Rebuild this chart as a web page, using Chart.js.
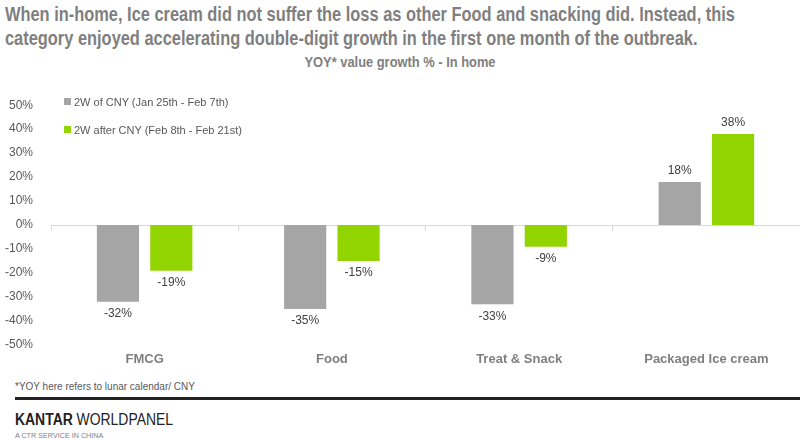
<!DOCTYPE html>
<html>
<head>
<meta charset="utf-8">
<script src="https://cdn.jsdelivr.net/npm/chart.js@4"></script>
<style>
  body { margin: 0; width: 800px; height: 441px; background: #fff; overflow: hidden; position: relative; font-family: "Liberation Sans", Arial, sans-serif; }
  .title { position: absolute; left: 5px; top: 2px; width: 1000px; transform: scaleX(0.8); transform-origin: 0 0; font-weight: bold; font-size: 20.5px; line-height: 24px; color: #7f7f7f; }
  .subtitle { position: absolute; left: 0; top: 54px; width: 800px; text-align: center; font-weight: bold; font-size: 14px; color: #7f7f7f; transform: scaleX(0.92); }
  #wrap { position: absolute; left: 0; top: 88px; width: 800px; height: 282px; }
  .legend { position: absolute; left: 64px; top: 95px; font-size: 11px; color: #595959; }
  .legend div { height: 28px; line-height: 14px; }
  .legend span { display: inline-block; width: 7px; height: 7px; margin-right: 3px; vertical-align: 1px; }
  .note { position: absolute; left: 15px; top: 381px; font-size: 10px; color: #595959; }
  .rule { position: absolute; left: 15px; top: 397px; width: 785px; height: 3px; background: #222; }
  .brand { position: absolute; left: 15px; top: 411px; font-size: 16px; color: #222; transform: scaleX(0.87); transform-origin: 0 0; white-space: nowrap; }
  .brand b { font-weight: bold; }
  .sub { position: absolute; left: 15px; top: 431px; font-size: 8px; color: #7f7f7f; transform: scaleX(0.9); transform-origin: 0 0; white-space: nowrap; }
</style>
</head>
<body>
<div class="title">When in-home, Ice cream did not suffer the loss as other Food and snacking did. Instead, this<br>category enjoyed accelerating double-digit growth in the first one month of the outbreak.</div>
<div class="subtitle">YOY* value growth % - In home</div>
<div id="wrap"><canvas id="chart"></canvas></div>
<div class="legend" id="legend"></div>
<div class="note">*YOY here refers to lunar calendar/ CNY</div>
<div class="rule"></div>
<div class="brand"><b>KANTAR</b> WORLDPANEL</div>
<div class="sub">A CTR SERVICE IN CHINA</div>
<script>
// Data
const categories = ['FMCG', 'Food', 'Treat & Snack', 'Packaged Ice cream'];
const seriesNames = ['2W of CNY (Jan 25th - Feb 7th)', '2W after CNY (Feb 8th - Feb 21st)'];
const before = [-32, -35, -33, 18];
const after = [-19, -15, -9, 38];
const yTicks = [50, 40, 30, 20, 10, 0, -10, -20, -30, -40, -50];
const colors = ['#a5a5a5', '#92d400'];

// Legend
const legend = document.getElementById('legend');
seriesNames.forEach((name, i) => {
    const row = document.createElement('div');
    row.innerHTML = '<span style="background:' + colors[i] + '"></span>' + name;
    legend.appendChild(row);
});

// Value labels above / below bars
const valueLabels = {
    id: 'valueLabels',
    afterDatasetsDraw(chart) {
        const ctx = chart.ctx;
        ctx.save();
        ctx.font = '12px "Liberation Sans", Arial, sans-serif';
        ctx.fillStyle = '#404040';
        ctx.textAlign = 'center';
        chart.data.datasets.forEach((ds, i) => {
            chart.getDatasetMeta(i).data.forEach((bar, j) => {
                const v = ds.data[j];
                if (v >= 0) {
                    ctx.textBaseline = 'bottom';
                    ctx.fillText(v + '%', bar.x, bar.y - 5);
                } else {
                    ctx.textBaseline = 'top';
                    ctx.fillText(v + '%', bar.x, bar.y + 6);
                }
            });
        });
        ctx.restore();
    }
};

new Chart(document.getElementById('chart'), {
    type: 'bar',
    data: {
        labels: categories,
        datasets: [
            { label: seriesNames[0], data: before, backgroundColor: colors[0], categoryPercentage: 0.57, barPercentage: 0.79 },
            { label: seriesNames[1], data: after, backgroundColor: colors[1], categoryPercentage: 0.57, barPercentage: 0.79 }
        ]
    },
    options: {
        responsive: true,
        maintainAspectRatio: false,
        animation: false,
        layout: { padding: { top: 14, right: 0, left: 0, bottom: 0 } },
        plugins: {
            legend: { display: false },
            tooltip: { enabled: false }
        },
        scales: {
            x: {
                position: { y: 0 },
                grid: { drawOnChartArea: false, drawTicks: true, tickLength: 5, offset: true, color: '#d9d9d9' },
                border: { display: true, color: '#d9d9d9' },
                ticks: { callback: () => '', maxRotation: 0 }
            },
            x2: {
                type: 'category',
                labels: categories,
                position: 'bottom',
                grid: { display: false, drawTicks: false },
                border: { display: false },
                afterFit: axis => { axis.height = 25; },
                ticks: { color: '#7f7f7f', font: { size: 13, weight: 'bold', family: '"Liberation Sans", Arial, sans-serif' }, padding: 7, maxRotation: 0 }
            },
            y: {
                min: -50,
                max: 50,
                afterBuildTicks: axis => { axis.ticks = yTicks.map(v => ({ value: v })); },
                afterFit: axis => { axis.width = 51; },
                grid: { display: false },
                border: { display: false },
                ticks: { color: '#595959', font: { size: 12, family: '"Liberation Sans", Arial, sans-serif' }, padding: 10, callback: v => v + '%' }
            }
        }
    },
    plugins: [valueLabels]
});
</script>
</body>
</html>
